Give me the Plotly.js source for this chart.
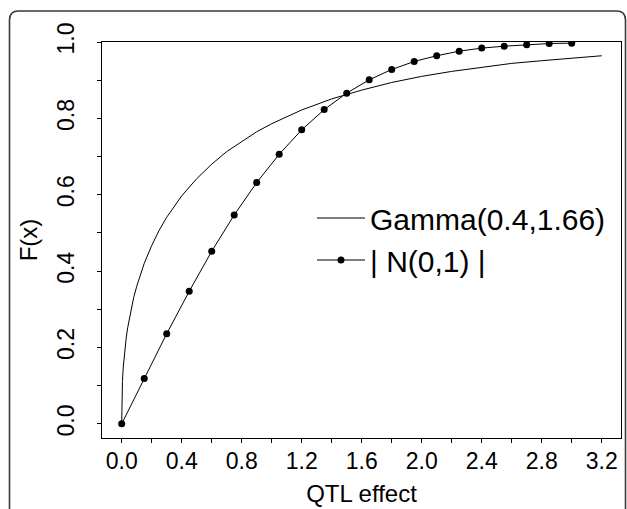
<!DOCTYPE html>
<html>
<head>
<meta charset="utf-8">
<script src="https://cdn.plot.ly/plotly-3.0.1.min.js"></script>
<style>
html,body{margin:0;padding:0;background:#fff;overflow:hidden;}
#chart{width:627px;height:509px;}
</style>
</head>
<body>
<div id="chart"></div>
<script>
// |N(0,1)| cumulative distribution
const normX = [0, 0.15, 0.30, 0.45, 0.60, 0.75, 0.90, 1.05, 1.20, 1.35, 1.50, 1.65, 1.80, 1.95, 2.10, 2.25, 2.40, 2.55, 2.70, 2.85, 3.00];
const normY = [0, 0.119, 0.236, 0.347, 0.452, 0.547, 0.632, 0.706, 0.770, 0.823, 0.866, 0.901, 0.928, 0.949, 0.964, 0.976, 0.984, 0.989, 0.993, 0.996, 0.997];

// Gamma(0.4,1.66) cumulative distribution curve
const gammaX = [0, 0.0001, 0.0003, 0.001, 0.003, 0.005, 0.01, 0.02, 0.03, 0.04, 0.06, 0.08, 0.10, 0.15, 0.20, 0.25, 0.30, 0.35, 0.40, 0.50, 0.60, 0.70, 0.80, 0.90, 1.00, 1.20, 1.40, 1.50, 1.60, 1.80, 2.00, 2.20, 2.40, 2.60, 2.80, 3.00, 3.20];
const gammaY = [0, 0.023, 0.036, 0.058, 0.090, 0.111, 0.146, 0.192, 0.225, 0.252, 0.296, 0.331, 0.360, 0.420, 0.467, 0.507, 0.541, 0.570, 0.597, 0.642, 0.680, 0.713, 0.740, 0.765, 0.786, 0.822, 0.851, 0.863, 0.874, 0.894, 0.910, 0.923, 0.934, 0.944, 0.951, 0.958, 0.964];

const seriesNames = ["Gamma(0.4,1.66)", "| N(0,1) |"];

const xTickVals = [0, 0.2, 0.4, 0.6, 0.8, 1.0, 1.2, 1.4, 1.6, 1.8, 2.0, 2.2, 2.4, 2.6, 2.8, 3.0, 3.2];
const xTickText = ["0.0", "", "0.4", "", "0.8", "", "1.2", "", "1.6", "", "2.0", "", "2.4", "", "2.8", "", "3.2"];
const yTickVals = [0, 0.1, 0.2, 0.3, 0.4, 0.5, 0.6, 0.7, 0.8, 0.9, 1.0];
const yTickText = ["0.0", "", "0.2", "", "0.4", "", "0.6", "", "0.8", "", "1.0"];

const xTitle = "QTL effect";
const yTitle = "F(x)";

const FONT = "Liberation Sans, Arial, Helvetica, sans-serif";

const traces = [
  {
    x: gammaX, y: gammaY, name: seriesNames[0],
    type: "scatter", mode: "lines",
    line: {color: "#000", width: 1},
    hoverinfo: "skip"
  },
  {
    x: normX, y: normY, name: seriesNames[1],
    type: "scatter", mode: "lines+markers",
    line: {color: "#000", width: 1},
    marker: {color: "#000", size: 7},
    hoverinfo: "skip"
  }
];

// plot area in pixels
const L = 102, R = 621, T = 42, B = 438, W = 627, H = 509;
const px = v => (v - L) / (R - L);
const py = v => (B - v) / (B - T);

// rounded outer frame (open at the bottom, running off the picture)
const bl = 9.5, bt = 11, br = 625.5, bb = 530, rad = 9;
const framePath =
  `M ${px(bl)},${py(bb)} L ${px(bl)},${py(bt + rad)} Q ${px(bl)},${py(bt)} ${px(bl + rad)},${py(bt)} ` +
  `L ${px(br - rad)},${py(bt)} Q ${px(br)},${py(bt)} ${px(br)},${py(bt + rad)} L ${px(br)},${py(bb)}`;

const axisCommon = {
  showgrid: false, zeroline: false,
  showline: true, mirror: true, linecolor: "#000", linewidth: 1,
  ticks: "outside", ticklen: 4, tickwidth: 1, tickcolor: "#000",
  tickfont: {family: FONT, size: 23, color: "#000"},
  tickmode: "array",
  automargin: false,
  fixedrange: true
};

const layout = {
  width: W, height: H,
  margin: {l: L, r: W - R, t: T, b: H - B, pad: 0},
  paper_bgcolor: "#fff", plot_bgcolor: "#fff",
  font: {family: FONT, color: "#000"},
  showlegend: true,
  legend: {
    x: px(312), y: py(192), xanchor: "left", yanchor: "top",
    bgcolor: "rgba(0,0,0,0)", borderwidth: 0,
    font: {family: FONT, size: 30, color: "#000"},
    tracegroupgap: 0, itemwidth: 48
  },
  xaxis: Object.assign({}, axisCommon, {
    range: [-0.1313, 3.3287],
    tickvals: xTickVals, ticktext: xTickText,
    tickangle: 0,
    ticklabelstandoff: -2,
    title: {text: xTitle, font: {family: FONT, size: 24, color: "#000"}, standoff: 12}
  }),
  yaxis: Object.assign({}, axisCommon, {
    range: [-0.037, 1.0],
    tickvals: yTickVals, ticktext: yTickText,
    tickangle: -90,
    ticklabelstandoff: 14,
    title: {text: yTitle, font: {family: FONT, size: 24, color: "#000"}, standoff: 8}
  }),
  shapes: [{
    type: "path", xref: "paper", yref: "paper", path: framePath,
    line: {color: "#3a3a3a", width: 1.6}, fillcolor: "rgba(0,0,0,0)"
  }]
};

Plotly.newPlot("chart", traces, layout, {displayModeBar: false, staticPlot: true});
</script>
</body>
</html>
